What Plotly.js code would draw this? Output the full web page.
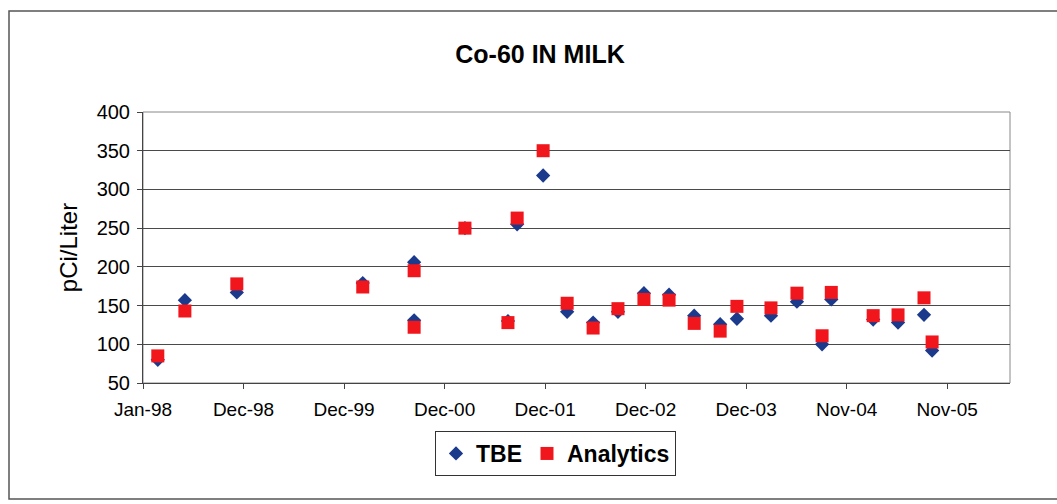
<!DOCTYPE html>
<html>
<head>
<meta charset="utf-8">
<script src="https://cdn.plot.ly/plotly-3.0.1.min.js"></script>
<style>html,body{margin:0;padding:0;background:#fff;}#chart{width:1057px;height:504px;}</style>
</head>
<body>
<div id="chart"></div>
<script>
// Sample dates
const dates = [
  '1998-02-23','1998-05-31','1998-12-03','2000-02-27','2000-08-29','2000-08-29',
  '2001-02-27','2001-07-31','2001-09-02','2001-12-04','2002-02-28','2002-06-01',
  '2002-08-29','2002-11-30','2003-02-28','2003-05-29','2003-08-30','2003-10-29',
  '2004-02-28','2004-05-31','2004-08-29','2004-10-01','2005-02-28','2005-05-28',
  '2005-08-29','2005-09-27'
];
const tbe = [80,157,167,179,206,131,250,130,255,318,142,128,142,166,164,137,126,133,137,155,100,158,132,128,138,92];
const analytics = [85,143,178,174,195,122,250,128,263,350,153,121,146,158,157,127,117,149,147,166,111,167,137,138,160,103];

const tickDates = ['1998-01-01','1998-12-27','1999-12-22','2000-12-16','2001-12-11','2002-12-06','2003-12-01','2004-11-25','2005-11-20'];
const tickLabels = ['Jan-98','Dec-98','Dec-99','Dec-00','Dec-01','Dec-02','Dec-03','Nov-04','Nov-05'];
const yTicks = [50,100,150,200,250,300,350,400];

const FONT = 'Liberation Sans, Arial, sans-serif';

const traces = [
  {x: dates, y: tbe, name: 'TBE', type: 'scatter', mode: 'markers',
   marker: {symbol: 'diamond', size: 11, color: '#1b3a8c'}},
  {x: dates, y: analytics, name: 'Analytics', type: 'scatter', mode: 'markers',
   marker: {symbol: 'square', size: 13, color: '#f0161c'}}
];

const layout = {
  width: 1057, height: 504,
  margin: {l: 143, r: 47, t: 112, b: 121},
  paper_bgcolor: '#ffffff', plot_bgcolor: '#ffffff',
  font: {family: FONT, color: '#000'},
  title: {text: 'Co-60 IN MILK', font: {family: FONT, size: 25, weight: 'bold', color: '#000'},
          x: 540/1057, xanchor: 'center', y: 1 - 54/504, yanchor: 'middle'},
  xaxis: {
    type: 'date', range: ['1998-01-01','2006-07-03'],
    tickmode: 'array', tickvals: tickDates, ticktext: tickLabels,
    ticks: 'outside', ticklen: 5, tickcolor: '#444', tickfont: {size: 19, family: FONT},
    ticklabelstandoff: 4,
    showgrid: false, showline: true, linecolor: '#444', linewidth: 1, mirror: false,
    zeroline: false
  },
  yaxis: {
    range: [50, 400], tickmode: 'array', tickvals: yTicks,
    ticks: 'outside', ticklen: 5, tickcolor: '#444', tickfont: {size: 20, family: FONT},
    ticklabelstandoff: 3,
    showgrid: true, gridcolor: '#4a4a4a', gridwidth: 1,
    showline: true, linecolor: '#444', linewidth: 1, zeroline: false,
    title: {text: 'pCi/Liter', font: {size: 24, family: FONT}, standoff: 12}
  },
  showlegend: true,
  legend: {orientation: 'h', x: (435-143)/867, xanchor: 'left', y: (383-431)/271, yanchor: 'top',
           bordercolor: '#333', borderwidth: 1, bgcolor: '#fff',
           font: {size: 23, family: FONT, weight: 'bold'}, itemwidth: 30, tracegroupgap: 0},
  shapes: [
    {type: 'rect', xref: 'paper', yref: 'paper', x0: 0, x1: 1, y0: 0, y1: 1,
     line: {color: '#888', width: 1}, layer: 'below'},
    {type: 'rect', xref: 'paper', yref: 'paper', x0: (9-143)/867, x1: (1060-143)/867,
     y0: (383-499)/271, y1: (383-11)/271, line: {color: '#555', width: 1.5}}
  ]
};

Plotly.newPlot('chart', traces, layout, {displayModeBar: false, staticPlot: true});
</script>
</body>
</html>
